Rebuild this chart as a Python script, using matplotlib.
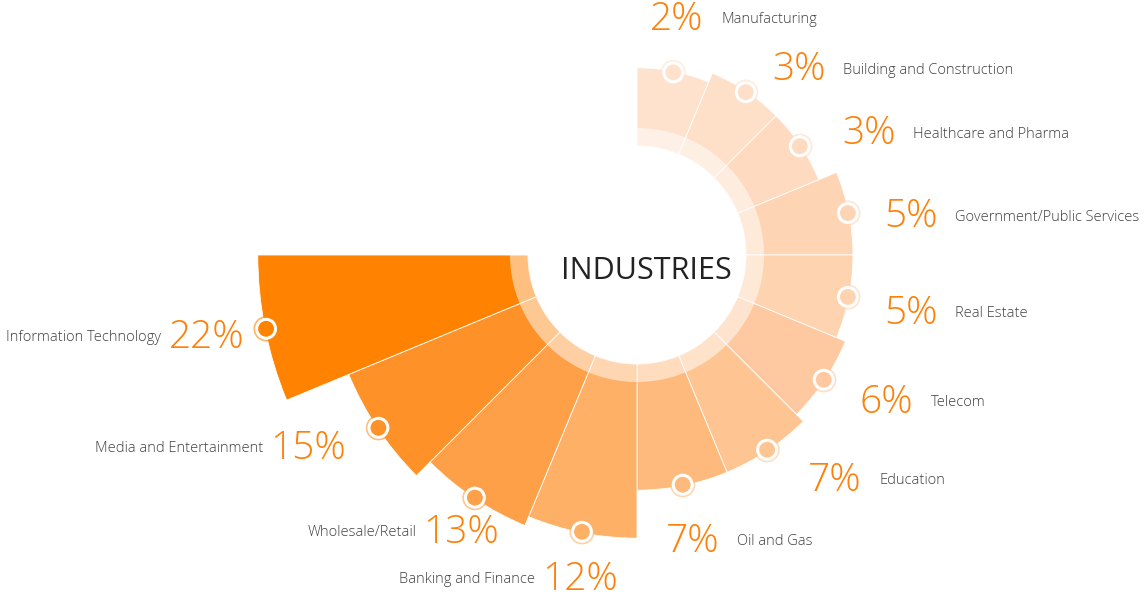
import numpy as np
import matplotlib.pyplot as plt

plt.rcParams['font.family'] = ['Open Sans', 'DejaVu Sans']

# data, clockwise from 12 o'clock
industries = ['Manufacturing', 'Building and Construction', 'Healthcare and Pharma',
              'Government/Public Services', 'Real Estate', 'Telecom', 'Education',
              'Oil and Gas', 'Banking and Finance', 'Wholesale/Retail',
              'Media and Entertainment', 'Information Technology']
shares = [2, 3, 3, 5, 5, 6, 7, 7, 12, 13, 15, 22]

# styling
seg_colors = ['#fee2cd', '#fedfc8', '#fedbc0', '#fed5b4', '#fed3b0', '#fec9a0',
              '#fec593', '#feba7c', '#feb066', '#fea048', '#fe9128', '#ff8200']
pct_color = '#fd8008'
name_color = '#404040'

# label offsets (pixels) from each marker: percent text anchor
pct_offsets = [(-23, 53), (26, 22), (42, 12), (36, -4), (36, -17), (36, -23),
               (41, -31), (-17, -57), (36, -48), (24, -35), (-32, -21), (-22, -9)]

W, H = 1144, 595
cx, cy = 637, 255
R = 460

fig = plt.figure(figsize=(W / 100, H / 100), dpi=100)
ax = fig.add_axes([(cx - R) / W, (H - cy - R) / H, 2 * R / W, 2 * R / H],
                  projection='polar')
ax.set_theta_zero_location('N')
ax.set_theta_direction(-1)
ax.set_ylim(0, R)
ax.axis('off')

n = len(shares)
step = np.deg2rad(270) / n
theta = step * (np.arange(n) + 0.5)
inner = 109
heights = 59 + 9.6 * np.array(shares)

ax.bar(theta, heights, width=step, bottom=inner, color=seg_colors,
       edgecolor='white', linewidth=0.6, zorder=2)

# pale inner ring over the segments
ax.bar(np.deg2rad(135), 18, width=np.deg2rad(270), bottom=inner,
       color='white', alpha=0.5, linewidth=0, zorder=3)

# markers at the outer edge
r_mark = inner + heights - 1
ax.scatter(theta, r_mark, s=330, c=seg_colors, alpha=0.6, linewidths=0, zorder=4)
ax.scatter(theta, r_mark, s=185, c=seg_colors, edgecolors='white',
           linewidths=2.2, zorder=5)

for i, (name, v) in enumerate(zip(industries, shares)):
    right = np.rad2deg(theta[i]) < 180
    t = ax.annotate(f'{v}%', xy=(theta[i], r_mark[i]), xytext=pct_offsets[i],
                    textcoords='offset pixels', ha='left' if right else 'right',
                    va='center', fontsize=28, color=pct_color, fontweight='light')
    ax.annotate(name, xy=(1, 0.5) if right else (0, 0.5), xycoords=t,
                xytext=(18, 0) if right else (-7, 0), textcoords='offset pixels',
                ha='left' if right else 'right', va='center', fontsize=10.5,
                color=name_color, fontweight='light')

fig.text(646 / W, 1 - 271 / H, 'INDUSTRIES', ha='center', va='center',
         fontsize=22, color='#222222')

fig.savefig('out.png', dpi=100)
